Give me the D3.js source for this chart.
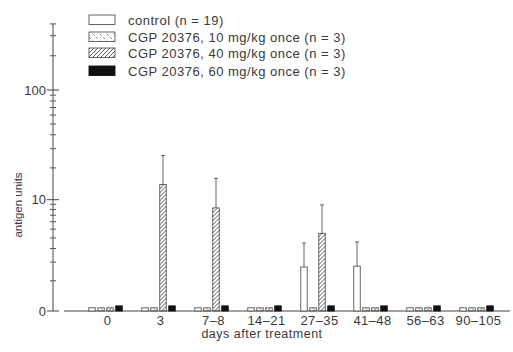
<!DOCTYPE html>
<html>
<head>
<meta charset="utf-8">
<script src="https://cdn.jsdelivr.net/npm/d3@7"></script>
<style>
  body { margin: 0; background: #fff; }
  text { font-family: "Liberation Sans", Arial, sans-serif; fill: #3a3a3a; }
</style>
</head>
<body>
<div id="chart"></div>
<script>
// data (antigen units, near-zero bars drawn as small stubs)
var groups = ["0", "3", "7\u20138", "14\u201321", "27\u201335", "41\u201348", "56\u201363", "90\u2013105"];
var seriesKeys = ["control", "cgp10", "cgp40", "cgp60"];
var seriesLabels = ["control (n = 19)", "CGP 20376, 10 mg/kg once (n = 3)",
                    "CGP 20376, 40 mg/kg once (n = 3)", "CGP 20376, 60 mg/kg once (n = 3)"];
var control = [0.08, 0.08, 0.08, 0.08, 1.7, 1.75, 0.08, 0.08];
var cgp10   = [0.08, 0.08, 0.08, 0.08, 0.08, 0.08, 0.08, 0.08];
var cgp40   = [0.08, 14, 8.3, 0.08, 4.5, 0.08, 0.08, 0.08];
var cgp60   = [0.13, 0.13, 0.13, 0.13, 0.13, 0.13, 0.13, 0.13];
var controlErr = [null, null, null, null, 3.5, 3.6, null, null];
var cgp40Err   = [null, 26, 16, null, 8.9, null, null, null];
var majorTicks = [0, 10, 100];
var minorTicks = [1, 2, 3, 4, 5, 6, 7, 8, 9, 20, 30, 40, 50, 60, 70, 80, 90, 200, 300];

var values = { control: control, cgp10: cgp10, cgp40: cgp40, cgp60: cgp60 };
var errors = { control: controlErr, cgp40: cgp40Err };

var width = 513, height = 352;

var svg = d3.select("#chart").append("svg")
    .attr("width", width)
    .attr("height", height);

// hatch patterns
var defs = svg.append("defs");
defs.append("pattern")
    .attr("id", "hatch40")
    .attr("patternUnits", "userSpaceOnUse")
    .attr("width", 4).attr("height", 4)
  .append("path")
    .attr("d", "M-1,1 l2,-2 M0,4 l4,-4 M3,5 l2,-2")
    .attr("stroke", "#444").attr("stroke-width", 0.9);
defs.append("pattern")
    .attr("id", "hatch10")
    .attr("patternUnits", "userSpaceOnUse")
    .attr("width", 7).attr("height", 7)
  .append("path")
    .attr("d", "M0,0 l7,7 M-1,6 l2,2 M6,-1 l2,2")
    .attr("stroke", "#666").attr("stroke-width", 0.7)
    .attr("stroke-dasharray", "3,2");

var fills = {
  control: "#fff",
  cgp10: "url(#hatch10)",
  cgp40: "url(#hatch40)",
  cgp60: "#111"
};

// scales
var y = d3.scaleSymlog().constant(1.2)
    .domain([0, 100])
    .range([311, 90]);

var x0 = d3.scaleBand()
    .domain(groups)
    .range([81, 505]);

var x1 = d3.scaleBand()
    .domain(seriesKeys)
    .range([-20, 16]);

var barW = 6.5;

// y axis
var axisX = 53;
var yTop = 380;
svg.append("line")
    .attr("x1", axisX).attr("x2", axisX)
    .attr("y1", y(0)).attr("y2", y(yTop))
    .attr("stroke", "#444").attr("stroke-width", 1);

svg.selectAll(".minor")
    .data(minorTicks.concat([yTop]))
    .enter().append("line")
    .attr("x1", axisX - 3).attr("x2", axisX + 3)
    .attr("y1", d => y(d)).attr("y2", d => y(d))
    .attr("stroke", "#555").attr("stroke-width", 1);

svg.selectAll(".major")
    .data(majorTicks)
    .enter().append("line")
    .attr("x1", axisX - 6).attr("x2", axisX + 6)
    .attr("y1", d => y(d)).attr("y2", d => y(d))
    .attr("stroke", "#444").attr("stroke-width", 1);

svg.selectAll(".ylab")
    .data(majorTicks)
    .enter().append("text")
    .attr("x", axisX - 7)
    .attr("y", d => y(d) + 4.5)
    .attr("text-anchor", "end")
    .style("font-size", "13px")
    .text(d => d);

svg.append("text")
    .attr("transform", "translate(22,205) rotate(-90)")
    .attr("text-anchor", "middle")
    .style("font-size", "11.5px")
    .text("antigen units");

// baseline
svg.append("line")
    .attr("x1", 64).attr("x2", 510)
    .attr("y1", y(0)).attr("y2", y(0))
    .attr("stroke", "#444").attr("stroke-width", 1);

// bars
var g = svg.selectAll(".group")
    .data(groups)
    .enter().append("g")
    .attr("transform", d => "translate(" + (x0(d) + x0.bandwidth() / 2) + ",0)");

g.selectAll("rect")
    .data((d, i) => seriesKeys.map(k => ({ key: k, value: values[k][i], err: errors[k] ? errors[k][i] : null })))
    .enter().append("rect")
    .attr("x", d => x1(d.key) + (x1.bandwidth() - barW) / 2)
    .attr("y", d => y(d.value))
    .attr("width", barW)
    .attr("height", d => y(0) - y(d.value))
    .attr("fill", d => fills[d.key])
    .attr("stroke", d => d.key == "cgp60" ? "#111" : "#555")
    .attr("stroke-width", 0.9);

// error bars
var errData = g.selectAll(".err")
    .data((d, i) => seriesKeys.filter(k => errors[k] && errors[k][i] != null)
        .map(k => ({ key: k, value: values[k][i], err: errors[k][i] })))
    .enter().append("g");

errData.append("line")
    .attr("x1", d => x1(d.key) + x1.bandwidth() / 2)
    .attr("x2", d => x1(d.key) + x1.bandwidth() / 2)
    .attr("y1", d => y(d.value))
    .attr("y2", d => y(d.err))
    .attr("stroke", "#555").attr("stroke-width", 0.9);

errData.append("line")
    .attr("x1", d => x1(d.key) + x1.bandwidth() / 2 - 2)
    .attr("x2", d => x1(d.key) + x1.bandwidth() / 2 + 2)
    .attr("y1", d => y(d.err))
    .attr("y2", d => y(d.err))
    .attr("stroke", "#555").attr("stroke-width", 0.9);

// x tick labels
svg.selectAll(".xlab")
    .data(groups)
    .enter().append("text")
    .attr("x", d => x0(d) + x0.bandwidth() / 2)
    .attr("y", 325)
    .attr("text-anchor", "middle")
    .style("font-size", "13px")
    .style("letter-spacing", "0.4px")
    .text(d => d);

svg.append("text")
    .attr("x", 262)
    .attr("y", 338)
    .attr("text-anchor", "middle")
    .style("font-size", "12.5px")
    .style("letter-spacing", "0.5px")
    .text("days after treatment");

// legend
var legendY = [20, 37, 53, 71];
var legend = svg.selectAll(".legend")
    .data(seriesKeys)
    .enter().append("g")
    .attr("transform", (d, i) => "translate(89," + legendY[i] + ")");

legend.append("rect")
    .attr("x", 0).attr("y", -5)
    .attr("width", 26).attr("height", 9.5)
    .attr("fill", d => fills[d])
    .attr("stroke", d => d == "cgp60" ? "#111" : "#555")
    .attr("stroke-width", 0.9);

legend.append("text")
    .attr("x", 39)
    .attr("y", 4.5)
    .style("font-size", "13px")
    .style("letter-spacing", "0.5px")
    .text((d, i) => seriesLabels[i]);
</script>
</body>
</html>
